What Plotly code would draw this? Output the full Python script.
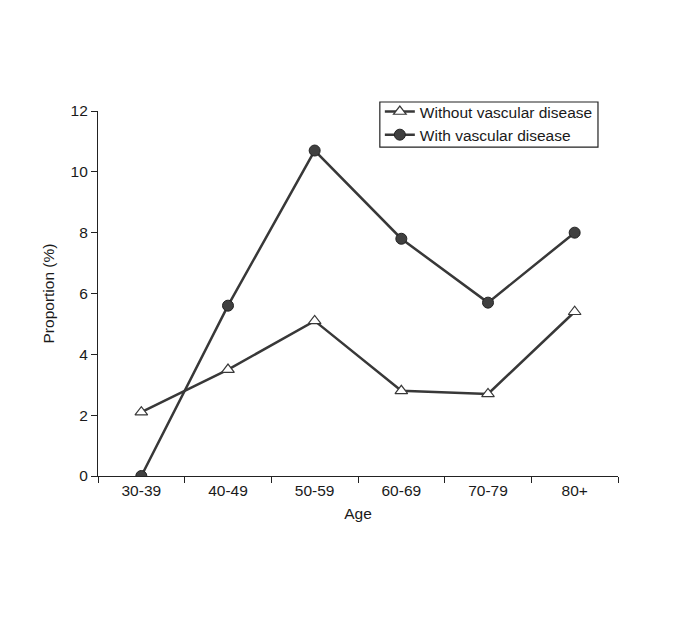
import plotly.graph_objects as go

ages = ["30-39", "40-49", "50-59", "60-69", "70-79", "80+"]
without_vd = [2.1, 3.5, 5.1, 2.8, 2.7, 5.4]
with_vd = [0.0, 5.6, 10.7, 7.8, 5.7, 8.0]
y_ticks = [0, 2, 4, 6, 8, 10, 12]

line_col = "#383838"
font = dict(family="Liberation Sans, Arial, sans-serif", size=15.5, color="#1a1a1a")

fig = go.Figure()
fig.add_trace(go.Scatter(
    x=ages, y=without_vd, name="Without vascular disease", mode="lines+markers",
    line=dict(color=line_col, width=2.5),
    marker=dict(symbol="triangle-up", size=11, color="white", line=dict(color=line_col, width=1.2)),
))
fig.add_trace(go.Scatter(
    x=ages, y=with_vd, name="With vascular disease", mode="lines+markers",
    line=dict(color=line_col, width=2.5),
    marker=dict(symbol="circle", size=11, color="#404040", line=dict(color="#222222", width=1)),
))

# legend frame drawn as a rectangle to match the tight box
fig.add_shape(type="rect", xref="paper", yref="paper",
              x0=0.542, x1=0.9615, y0=0.901, y1=1.0247,
              line=dict(color="#222222", width=1.2), fillcolor="rgba(0,0,0,0)", layer="above")

fig.update_layout(
    width=685, height=622,
    margin=dict(l=90, r=75, t=103, b=154),
    paper_bgcolor="white", plot_bgcolor="white",
    font=font,
    showlegend=True,
    legend=dict(x=0.542, y=1.044, xanchor="left", yanchor="top",
                borderwidth=0, bgcolor="rgba(0,0,0,0)",
                font=dict(size=15.5), tracegroupgap=0, itemwidth=30),
    xaxis=dict(type="category", range=[-0.5, 5.5], showgrid=False,
               showline=True, linecolor="#222222", linewidth=1.2,
               ticks="outside", tickson="boundaries", ticklen=6, tickcolor="#222222",
               tickfont=dict(size=15.5),
               title=dict(text="Age", standoff=10, font=dict(size=15.5))),
    yaxis=dict(range=[0, 12], tickvals=y_ticks, showgrid=False, zeroline=False,
               showline=True, linecolor="#222222", linewidth=1.2,
               ticks="outside", ticklen=6, tickcolor="#222222",
               tickfont=dict(size=15.5),
               title=dict(text="Proportion (%)", standoff=12, font=dict(size=15.5))),
)

fig.write_html("out.html")
